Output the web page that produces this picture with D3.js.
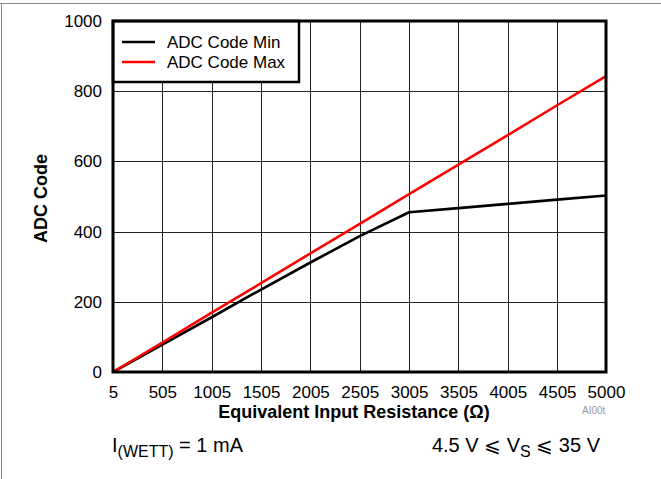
<!DOCTYPE html>
<html><head><meta charset="utf-8">
<script src="https://cdn.jsdelivr.net/npm/d3@7"></script>
<style>body{margin:0;background:#fff}svg{display:block}text{font-family:"Liberation Sans",Arial,sans-serif}</style>
</head><body><svg id="c" width="661" height="479"></svg>
<script>
const xValues = [5, 505, 1005, 1505, 2005, 2505, 3005, 3505, 4005, 4505, 5000];
const minCode = [0, 78, 156, 235, 312, 387, 455, 467, 479, 491, 503];
const maxCode = [0, 84, 169, 253, 338, 422, 507, 591, 675, 760, 843];
const xTickLabels = ["5","505","1005","1505","2005","2505","3005","3505","4005","4505","5000"];
const yTicks = [0, 200, 400, 600, 800, 1000];
const seriesNames = ["ADC Code Min", "ADC Code Max"];
const seriesColors = ["#000000", "#ff0000"];

const svg = d3.select("#c");
const L = 113, R = 606, T = 21, B = 372;
const x = d3.scaleLinear().domain([5, 5000]).range([L, R]);
const y = d3.scaleLinear().domain([0, 1000]).range([B, T]);

// frame
svg.append("line").attr("x1",0).attr("x2",661).attr("y1",3.5).attr("y2",3.5).attr("stroke","#888").attr("stroke-width",1);
svg.append("line").attr("x1",1.5).attr("x2",1.5).attr("y1",3).attr("y2",479).attr("stroke","#888").attr("stroke-width",1);

// grid
const g = svg.append("g");
g.selectAll(".vx").data(xValues).enter().append("line")
  .attr("x1", d => Math.round(x(d)) + 0.5).attr("x2", d => Math.round(x(d)) + 0.5)
  .attr("y1", T).attr("y2", B).attr("stroke", "#222").attr("stroke-width", 1);
g.selectAll(".hy").data(yTicks).enter().append("line")
  .attr("y1", d => Math.round(y(d)) + 0.5).attr("y2", d => Math.round(y(d)) + 0.5)
  .attr("x1", L).attr("x2", R).attr("stroke", "#222").attr("stroke-width", 1);

// axes labels via d3 axes
const xAxis = d3.axisBottom(x).tickValues(xValues).tickFormat((d,i) => xTickLabels[i]).tickSize(0).tickPadding(14);
const xa = svg.append("g").attr("transform", `translate(0,${B})`).call(xAxis);
xa.select(".domain").remove();
xa.selectAll("text").attr("font-size", 17).attr("fill", "#000").style("font-family","Liberation Sans, Arial, sans-serif");

const yAxis = d3.axisLeft(y).tickValues(yTicks).tickFormat(d3.format("d")).tickSize(0).tickPadding(11);
const ya = svg.append("g").attr("transform", `translate(${L},0)`).call(yAxis);
ya.select(".domain").remove();
ya.selectAll("text").attr("font-size", 17).attr("fill", "#000").style("font-family","Liberation Sans, Arial, sans-serif");

// lines
const line = d3.line().x((d,i) => x(xValues[i])).y(d => y(d));
[minCode, maxCode].forEach((s, k) => {
  svg.append("path").datum(s).attr("d", line).attr("fill","none")
    .attr("stroke", seriesColors[k]).attr("stroke-width", 2.6).attr("stroke-linejoin","round");
});

// legend
const lg = svg.append("g");
lg.append("rect").attr("x", L).attr("y", T).attr("width", 299 - L).attr("height", 82 - T)
  .attr("fill", "#fff").attr("stroke", "#000").attr("stroke-width", 2.5);
seriesNames.forEach((n, k) => {
  const yy = 42 + k * 20;
  lg.append("line").attr("x1", 122).attr("x2", 155).attr("y1", yy).attr("y2", yy)
    .attr("stroke", seriesColors[k]).attr("stroke-width", 2.6);
  lg.append("text").attr("x", 167).attr("y", yy + 6).attr("font-size", 17).text(n);
});

// plot border
svg.append("rect").attr("x", L).attr("y", T).attr("width", R - L).attr("height", B - T)
  .attr("fill", "none").attr("stroke", "#000").attr("stroke-width", 3);

// titles
svg.append("text").attr("x", 354).attr("y", 418).attr("text-anchor", "middle")
  .attr("font-size", 18).attr("font-weight", "bold").text("Equivalent Input Resistance (Ω)");
svg.append("text").attr("transform", `translate(47,${(T + B) / 2 + 2}) rotate(-90)`).attr("text-anchor", "middle")
  .attr("font-size", 18).attr("font-weight", "bold").text("ADC Code");

// small figure id
svg.append("text").attr("x", 582).attr("y", 414).attr("font-size", 10).attr("fill", "#999").text("AI00t");

// conditions
const t1 = svg.append("text").attr("x", 112).attr("y", 452).attr("font-size", 20);
t1.append("tspan").text("I");
t1.append("tspan").attr("font-size", 16).attr("dy", 5).text("(WETT)");
t1.append("tspan").attr("dy", -5).text(" = 1 mA");
const t2 = svg.append("text").attr("x", 600).attr("y", 452).attr("font-size", 20).attr("text-anchor", "end");
t2.append("tspan").text("4.5 V ⩽ V");
t2.append("tspan").attr("font-size", 16).attr("dy", 5).text("S");
t2.append("tspan").attr("dy", -5).text(" ⩽ 35 V");
</script></body></html>
